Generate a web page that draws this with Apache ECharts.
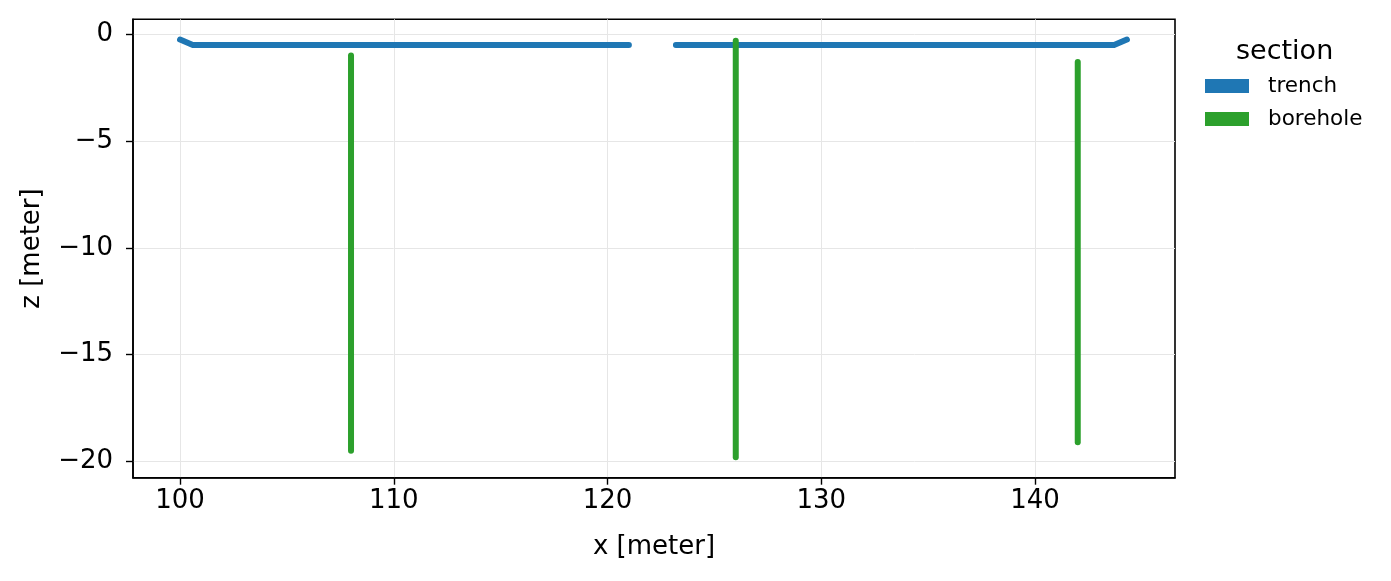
<!DOCTYPE html>
<html>
<head>
<meta charset="utf-8">
<script src="https://cdn.jsdelivr.net/npm/echarts@6/dist/echarts.min.js"></script>
<style>
html,body{margin:0;padding:0;background:#fff;}
#chart{width:1391px;height:581px;}
</style>
</head>
<body>
<div id="chart"></div>
<script>
// ---- data ----
const xTicks = [100, 110, 120, 130, 140];
const zTicks = [-20, -15, -10, -5, 0];
const trenchLeft = [[100, -0.25], [100.6, -0.5], [121, -0.5]];
const trenchRight = [[123.2, -0.5], [143.7, -0.5], [144.3, -0.25]];
const boreholeX = [108, 126, 142];
const boreholeTop = [-1.0, -0.3, -1.3];
const boreholeBottom = [-19.5, -19.8, -19.1];
const legendTitle = 'section';
const legendNames = ['trench', 'borehole'];

const blue = '#1f77b4';
const green = '#2ca02c';
const font = 'DejaVu Sans';
const fmt = v => (v < 0 ? '\u2212' + Math.abs(v) : String(v));

const series = [];
[trenchLeft, trenchRight].forEach(seg => {
  series.push({
    name: 'trench', type: 'line', data: seg, showSymbol: false, symbol: 'none',
    lineStyle: { color: blue, width: 6, cap: 'round', join: 'round' },
    itemStyle: { color: blue }, silent: true, animation: false, z: 2
  });
});
boreholeX.forEach((x, i) => {
  series.push({
    name: 'borehole', type: 'line', data: [[x, boreholeTop[i]], [x, boreholeBottom[i]]],
    showSymbol: false, symbol: 'none',
    lineStyle: { color: green, width: 6, cap: 'round', join: 'round' },
    itemStyle: { color: green }, silent: true, animation: false, z: 3
  });
});

const chart = echarts.init(document.getElementById('chart'), null, { renderer: 'canvas' });
chart.setOption({
  animation: false,
  backgroundColor: '#fff',
  textStyle: { fontFamily: font },
  grid: { left: 133, right: 216, top: 19.3, bottom: 103.3, show: true, borderColor: '#000', borderWidth: 1.6, backgroundColor: 'transparent' },
  xAxis: {
    type: 'value', min: 97.8, max: 146.55,
    name: 'x [meter]', nameLocation: 'middle', nameGap: 57,
    nameTextStyle: { fontFamily: font, fontSize: 26, color: '#000' },
    axisLine: { show: true, onZero: false, lineStyle: { color: '#000', width: 1.6 } },
    axisTick: { show: true, customValues: xTicks, length: 7, lineStyle: { color: '#000', width: 1.4 } },
    axisLabel: { customValues: xTicks, formatter: fmt, fontFamily: font, fontSize: 26, color: '#000', margin: 11 },
    splitLine: { show: true, lineStyle: { color: '#e6e6e6', width: 1 } }
  },
  yAxis: {
    type: 'value', min: -20.76, max: 0.70,
    name: 'z [meter]', nameLocation: 'middle', nameGap: 88,
    nameTextStyle: { fontFamily: font, fontSize: 26, color: '#000' },
    axisLine: { show: true, onZero: false, lineStyle: { color: '#000', width: 1.6 } },
    axisTick: { show: true, customValues: zTicks, length: 7, lineStyle: { color: '#000', width: 1.4 } },
    axisLabel: { customValues: zTicks, formatter: fmt, fontFamily: font, fontSize: 26, color: '#000', margin: 20 },
    splitLine: { show: true, lineStyle: { color: '#e6e6e6', width: 1 } }
  },
  legend: {
    orient: 'vertical', left: 1200, top: 70, itemWidth: 44, itemHeight: 14, itemGap: 11,
    data: legendNames.map((n, i) => ({ name: n, icon: 'rect', itemStyle: { color: i ? green : blue } })),
    textStyle: { fontFamily: font, fontSize: 21.5, color: '#000', padding: [0, 0, 0, 14] },
    selectedMode: false
  },
  graphic: [{
    type: 'text', left: 1236, top: 38,
    style: { text: legendTitle, font: '27px "DejaVu Sans"', fill: '#000' }
  }],
  series: series
});
</script>
</body>
</html>
